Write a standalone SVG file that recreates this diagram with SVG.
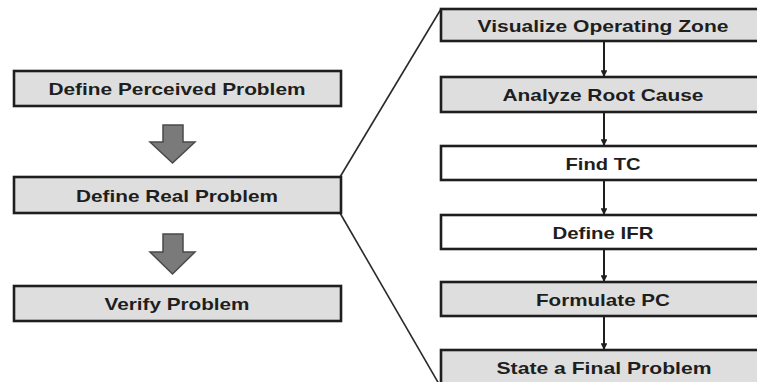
<svg xmlns="http://www.w3.org/2000/svg" width="757" height="382" viewBox="0 0 757 382">
<style>
.box{stroke:#1e1e1e;stroke-width:2.6}
.gray{fill:#dedede}
.white{fill:#ffffff}
.t{font-family:"Liberation Sans",Arial,sans-serif;font-weight:bold;font-size:17px;fill:#1e1e1e;text-anchor:middle}
.big{fill:#7a7a7a;stroke:#4a4a4a;stroke-width:1.5;stroke-linejoin:miter}
.con{stroke:#1e1e1e;stroke-width:2;fill:none}
.fan{stroke:#2a2a2a;stroke-width:1.6;fill:none}
</style>
<defs>
<marker id="ah" viewBox="0 0 10 10" refX="10" refY="5" markerWidth="3.4" markerHeight="3.4" orient="auto" markerUnits="strokeWidth">
<path d="M0,0 L10,5 L0,10 z" fill="#1e1e1e"/>
</marker>
</defs>
<g id="connectors">
<line class="fan" x1="340" y1="177" x2="441" y2="9"/>
<line class="fan" x1="340" y1="213" x2="439" y2="384"/>
<path class="big" d="M163,125 H183 V142 H195 L172.5,163 L150,142 H163 Z"/>
<path class="big" d="M163,234 H183 V252 H195 L172.5,274 L150,252 H163 Z"/>
<line class="con" x1="604" y1="41" x2="604" y2="77" marker-end="url(#ah)"/>
<line class="con" x1="604" y1="112" x2="604" y2="146" marker-end="url(#ah)"/>
<line class="con" x1="604" y1="180" x2="604" y2="215" marker-end="url(#ah)"/>
<line class="con" x1="604" y1="249" x2="604" y2="282" marker-end="url(#ah)"/>
<line class="con" x1="604" y1="316" x2="604" y2="350" marker-end="url(#ah)"/>
</g>
<g id="define-perceived">
<rect class="box gray" x="14" y="71" width="327" height="35"/>
<text class="t" x="177" y="94.5" textLength="257" lengthAdjust="spacingAndGlyphs">Define Perceived Problem</text>
</g>
<g id="define-real">
<rect class="box gray" x="14" y="177" width="327" height="36"/>
<text class="t" x="177" y="201.5" textLength="202" lengthAdjust="spacingAndGlyphs">Define Real Problem</text>
</g>
<g id="verify">
<rect class="box gray" x="14" y="286" width="327" height="35"/>
<text class="t" x="177" y="309.5" textLength="145" lengthAdjust="spacingAndGlyphs">Verify Problem</text>
</g>
<g id="visualize">
<rect class="box gray" x="441" y="9" width="330" height="32"/>
<text class="t" x="603" y="31.5" textLength="251" lengthAdjust="spacingAndGlyphs">Visualize Operating Zone</text>
</g>
<g id="analyze">
<rect class="box gray" x="441" y="77" width="330" height="35"/>
<text class="t" x="603" y="100.5" textLength="201" lengthAdjust="spacingAndGlyphs">Analyze Root Cause</text>
</g>
<g id="find-tc">
<rect class="box white" x="441" y="146" width="330" height="34"/>
<text class="t" x="603" y="169.5" textLength="75" lengthAdjust="spacingAndGlyphs">Find TC</text>
</g>
<g id="define-ifr">
<rect class="box white" x="441" y="215" width="330" height="34"/>
<text class="t" x="603" y="238.5" textLength="101" lengthAdjust="spacingAndGlyphs">Define IFR</text>
</g>
<g id="formulate-pc">
<rect class="box gray" x="441" y="282" width="330" height="34"/>
<text class="t" x="603" y="305.5" textLength="134" lengthAdjust="spacingAndGlyphs">Formulate PC</text>
</g>
<g id="state-final">
<rect class="box gray" x="441" y="350" width="330" height="40"/>
<text class="t" x="604" y="373.5" textLength="215" lengthAdjust="spacingAndGlyphs">State a Final Problem</text>
</g>
</svg>
